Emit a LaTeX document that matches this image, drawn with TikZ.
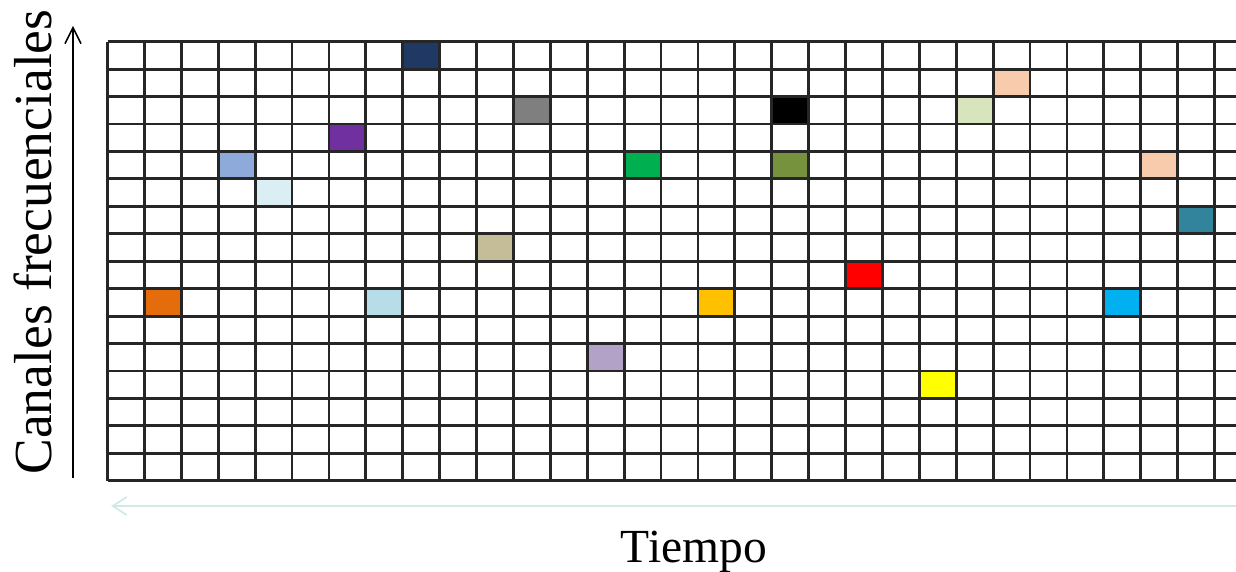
\documentclass[tikz,border=0pt]{standalone}
\usepackage{fontspec}
\setmainfont{Liberation Serif}
\usetikzlibrary{arrows.meta}
\definecolor{cnavy}{HTML}{1F3864}
\definecolor{cpeach}{HTML}{F8CBAD}
\definecolor{cgray}{HTML}{7F7F7F}
\definecolor{clgreen}{HTML}{D8E4BC}
\definecolor{cpurple}{HTML}{7030A0}
\definecolor{csteel}{HTML}{8EAADB}
\definecolor{cgreen}{HTML}{00B050}
\definecolor{colive}{HTML}{76923C}
\definecolor{cpale}{HTML}{DAEEF3}
\definecolor{cteal}{HTML}{31849B}
\definecolor{ctan}{HTML}{C4BD97}
\definecolor{cred}{HTML}{FF0000}
\definecolor{corange}{HTML}{E46C0A}
\definecolor{clcyan}{HTML}{B7DEE8}
\definecolor{cgold}{HTML}{FFC000}
\definecolor{csky}{HTML}{00B0F0}
\definecolor{clav}{HTML}{B3A2C7}
\definecolor{cyel}{HTML}{FFFF00}
\definecolor{caxis}{HTML}{D4E8E8}
\tikzset{
  gridline/.style={draw=black!85, line width=2.8pt},
  axisarrow/.style={draw=black, line width=1.6pt, -{Straight Barb[length=16pt,width=16pt,line width=1.5pt]}},
  timearrow/.style={draw=caxis, line width=2.2pt, -{Straight Barb[length=14pt,width=18pt,line width=1.8pt]}},
  label/.style={inner sep=0pt, font=\fontsize{53.5}{60}\selectfont}
}
\begin{document}
\begin{tikzpicture}[x=1pt,y=-1pt]
\useasboundingbox (0,0) rectangle (1236,572);
\def\xo{107.5}\def\cw{36.9}\def\yo{41.7}\def\rh{27.44}
% coloured cells
\foreach \c/\r/\col in {8/0/cnavy,24/1/cpeach,11/2/cgray,18/2/black,23/2/clgreen,
  6/3/cpurple,3/4/csteel,14/4/cgreen,18/4/colive,28/4/cpeach,4/5/cpale,
  29/6/cteal,10/7/ctan,20/8/cred,1/9/corange,7/9/clcyan,16/9/cgold,27/9/csky,
  13/11/clav,22/12/cyel}{
  \fill[\col] ({\xo+\c*\cw},{\yo+\r*\rh}) rectangle ({\xo+(\c+1)*\cw},{\yo+(\r+1)*\rh});
}
% grid
\begin{scope}
\clip (0,0) rectangle (1236,572);
\foreach \k in {0,...,30}{
  \draw[gridline] ({\xo+\k*\cw},\yo) -- ({\xo+\k*\cw},{\yo+16*\rh});
}
\foreach \r in {0,...,16}{
  \draw[gridline] (\xo,{\yo+\r*\rh}) -- (1240,{\yo+\r*\rh});
}
\end{scope}
% axes
\coordinate (vb) at (73,478);
\coordinate (vt) at (73,26);
\draw[axisarrow] (vb) -- (vt);
\coordinate (hr) at (1236,506);
\coordinate (hl) at (111,506);
\draw[timearrow] (hr) -- (hl);
\node[label, rotate=90, anchor=base] (canales) at (51,242) {Canales frecuenciales};
\node[label, font=\fontsize{47.5}{55}\selectfont, anchor=base] (tiempo) at (694,562) {Tiempo};
\end{tikzpicture}
\end{document}
